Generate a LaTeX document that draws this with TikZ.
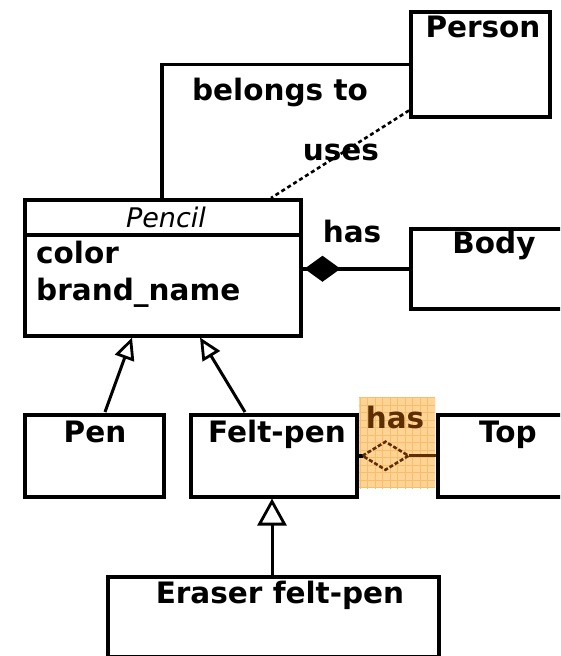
\documentclass[tikz,border=0pt]{standalone}
\usepackage{fontspec}
\setmainfont{DejaVu Sans}
\usetikzlibrary{arrows.meta,calc}
\definecolor{hlfill}{RGB}{255,212,150}
\definecolor{hlgrid}{RGB}{250,190,105}
\definecolor{hlink}{RGB}{92,46,0}
\tikzset{
  classbox/.style={draw=black, line width=3.5pt, minimum width=#1, anchor=north west, inner sep=0pt},
  title/.style={anchor=base, inner sep=0pt, font=\fontsize{29.5}{34}\selectfont\bfseries},
  attr/.style={anchor=base west, inner sep=0pt, font=\fontsize{29.5}{34}\selectfont\bfseries},
  assoc/.style={line width=3.5pt},
  usesline/.style={line width=2.6pt, dash pattern=on 4pt off 3pt},
  inherit/.style={line width=3pt, -{Triangle[open, length=22pt, width=20pt, line width=2.8pt]}},
}
\begin{document}
\begin{tikzpicture}[x=1pt, y=-1pt]
\useasboundingbox (0,0) rectangle (560,656);
\fill[white] (0,0) rectangle (560,656);
\clip (0,0) rectangle (560,656);

% class boxes
\node[classbox=139, minimum height=105] (person) at (409,10) {};
\node[classbox=276, minimum height=136] (pencil) at (23,198) {};
\node[classbox=160, minimum height=80] (body) at (409,227) {};
\node[classbox=139, minimum height=82] (pen) at (23,413) {};
\node[classbox=166, minimum height=82] (felt) at (189,413) {};
\node[classbox=160, minimum height=82] (top) at (436,413) {};
\node[classbox=331, minimum height=80] (eraser) at (106,575) {};

% Pencil name compartment
\draw[line width=3.5pt] ($(pencil.north west)+(0,37)$) -- ($(pencil.north east)+(0,37)$);

% class names and attributes
\node[title] (tperson) at (483,37) {Person};
\node[anchor=base, inner sep=0pt, font=\fontsize{27}{32}\selectfont\itshape] (tpencil) at (166,227) {Pencil};
\node[attr] (acolor) at (36,263) {color};
\node[attr] (abrand) at (36,300) {brand\_name};
\node[title] (tbody) at (494,253) {Body};
\node[title] (tpen) at (95,442) {Pen};
\node[title] (tfelt) at (277,442) {Felt-pen};
\node[title] (ttop) at (508,442) {Top};
\node[title] (teraser) at (280,603) {Eraser felt-pen};

% belongs to
\draw[assoc] ($(pencil.north west)+(139,0)$) |- (person.west);
\node[title] (lbelongs) at (280,100) {belongs to};

% uses
\draw[usesline] ($(person.south west)+(0,-8)$) -- ($(pencil.north west)+(248,0)$);
\node[title] (luses) at (341,160) {uses};

% composition Pencil <>-- Body
\coordinate (cd) at (pencil.east |- body.west);
\draw[assoc] (cd) -- (body.west);
\fill[black] ($(cd)+(2,0)$) -- ++(18,-13) -- ++(18,13) -- ++(-18,13) -- cycle;
\node[title] (lhas1) at (352,242) {has};

% highlighted aggregation Felt-pen <>-- Top
\fill[hlfill] (359,397) rectangle (435,488);
\begin{scope}
\clip (359,397) rectangle (435,488);
\draw[hlgrid, line width=0.7pt, step=7.5pt] (359,397) grid (436,489);
\end{scope}
\draw[line width=3.5pt] (felt.east) -- ++(4,0) coordinate (ad);
\draw[hlink, line width=2.6pt, dash pattern=on 4pt off 2pt] (ad) -- ++(23,-14) -- ++(23,14) -- ++(-23,14) -- cycle;
\draw[hlink, line width=2.6pt] ($(ad)+(46,0)$) -- (top.west);
\node[title, text=hlink] (lhas2) at (395,428) {has};

% generalisations
\draw[inherit] ($(pen.north west)+(82,-1)$) -- ($(pencil.south west)+(109,0)$);
\draw[inherit] ($(felt.north west)+(56,-1)$) -- ($(pencil.south west)+(177,0)$);
\draw[inherit, -{Triangle[open, length=27pt, width=29pt, line width=2.8pt]}] ($(eraser.north west)+(166,0)$) -- ($(felt.south west)+(83,0)$);
\end{tikzpicture}
\end{document}
